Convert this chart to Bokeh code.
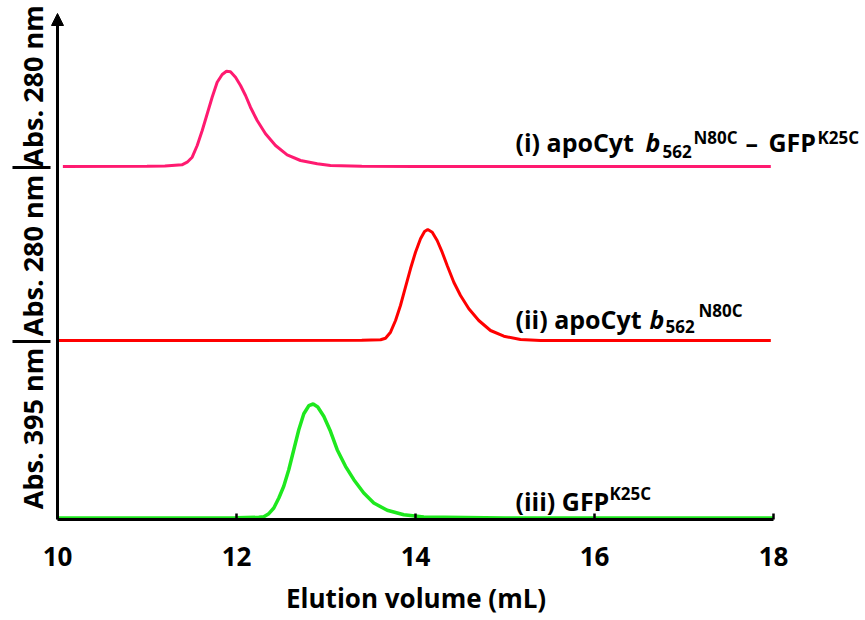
from bokeh.plotting import figure
from bokeh.models import Range1d, FixedTicker, Label, Arrow, NormalHead
from bokeh.embed import file_html
from bokeh.resources import INLINE

# ---- data (elution volume in mL, absorbance in arbitrary units) ----
vol_i = [10.06, 11.00, 11.20, 11.39, 11.449, 11.505, 11.561, 11.617, 11.673, 11.728, 11.784,
         11.840, 11.888, 11.933, 11.989, 12.045, 12.101, 12.156, 12.231, 12.324, 12.436,
         12.566, 12.715, 12.902, 13.050, 13.40, 14.0, 15.0, 16.0, 17.0, 17.97]
abs_i = [0.000, 0.003, 0.005, 0.017, 0.043, 0.093, 0.210, 0.360, 0.527, 0.693, 0.843,
         0.920, 0.953, 0.947, 0.893, 0.810, 0.710, 0.593, 0.460, 0.327, 0.210,
         0.117, 0.060, 0.027, 0.010, 0.003, 0.0, 0.0, 0.0, 0.0, 0.0]

vol_ii = [10.00, 12.0, 13.40, 13.61, 13.665, 13.721, 13.777, 13.832, 13.888, 13.944, 14.000,
          14.056, 14.101, 14.137, 14.187, 14.242, 14.298, 14.354, 14.428, 14.503, 14.596,
          14.707, 14.838, 14.987, 15.173, 15.397, 16.0, 17.0, 17.97]
abs_ii = [0.000, 0.0, 0.002, 0.007, 0.023, 0.083, 0.200, 0.350, 0.533, 0.717, 0.883,
          1.017, 1.090, 1.110, 1.083, 1.000, 0.883, 0.750, 0.583, 0.450, 0.317,
          0.200, 0.100, 0.043, 0.010, 0.000, 0.0, 0.0, 0.0]

vol_iii = [10.00, 11.0, 12.0, 12.25, 12.305, 12.361, 12.417, 12.473, 12.528, 12.584, 12.640,
           12.696, 12.752, 12.808, 12.857, 12.908, 12.975, 13.050, 13.125, 13.218, 13.311,
           13.422, 13.534, 13.684, 13.869, 14.093, 15.0, 16.0, 17.0, 18.0]
abs_iii = [0.000, 0.0, 0.003, 0.007, 0.013, 0.043, 0.100, 0.200, 0.317, 0.483, 0.683,
           0.883, 1.043, 1.123, 1.140, 1.110, 1.017, 0.867, 0.683, 0.517, 0.383,
           0.250, 0.150, 0.077, 0.033, 0.010, 0.0, 0.0, 0.0, 0.0]

x_ticks = [10, 12, 14, 16, 18]
y_titles = ["Abs. 280 nm", "Abs. 280 nm", "Abs. 395 nm"]
x_title = "Elution volume (mL)"

# ---- layout constants ----
SCALE = 100.0                 # plot units per absorbance unit
OFF_I, OFF_II, OFF_III = 353.0, 179.0, 1.5
SEP = [352.0, 178.0]
FONT = "Open Sans"
PXU = 89.5                    # pixels per mL
X0 = 10 - 57 / PXU
X1 = 10 + (865 - 57) / PXU

p = figure(width=865, height=620, x_range=Range1d(X0, X1), y_range=Range1d(0, 519),
           output_backend="svg", toolbar_location=None,
           min_border_left=0, min_border_right=0, min_border_top=0, min_border_bottom=101)
p.outline_line_color = None
p.xgrid.visible = False
p.ygrid.visible = False
p.yaxis.visible = False
p.background_fill_color = "white"
p.border_fill_color = "white"

ax = p.xaxis[0]
ax.bounds = (10, 18)
ax.ticker = FixedTicker(ticks=x_ticks)
ax.minor_tick_line_color = None
ax.major_tick_in = 6
ax.major_tick_out = 0
ax.major_tick_line_width = 2.5
ax.major_tick_line_color = "black"
ax.axis_line_width = 3
ax.axis_line_color = "black"
ax.major_label_text_font = FONT
ax.major_label_text_font_style = "bold"
ax.major_label_text_font_size = "26px"
ax.major_label_text_color = "black"
ax.major_label_standoff = 27
# trailing no-break spaces centre the title under the 10-18 span instead of the full frame
ax.axis_label = x_title + "\u00a0" * 5
ax.axis_label_text_font = FONT
ax.axis_label_text_font_style = "bold"
ax.axis_label_text_font_size = "26px"
ax.axis_label_text_color = "black"
ax.axis_label_standoff = 11

p.line(vol_i, [OFF_I + a * SCALE for a in abs_i], line_color="#ff1a70", line_width=3)
p.line(vol_ii, [OFF_II + a * SCALE for a in abs_ii], line_color="#ff0000", line_width=3)
p.line(vol_iii, [OFF_III + a * SCALE for a in abs_iii], line_color="#1ee81e", line_width=3.5)

# y axis with arrow head
p.add_layout(Arrow(end=NormalHead(size=12, fill_color="black", line_color="black", line_width=1),
                   x_start=10, y_start=0, x_end=10, y_end=506,
                   line_width=3, line_color="black"))
# panel separators
for s in SEP:
    p.add_layout(Arrow(start=None, end=None, x_start=9.497, y_start=s, x_end=9.922, y_end=s,
                       line_width=3, line_color="black"))

# y titles
for title, yc in zip(y_titles, [433.5, 264.0, 91.0]):
    p.add_layout(Label(x=9.7207, y=yc, text=title, angle=90, angle_units="deg",
                       text_align="center", text_baseline="alphabetic",
                       text_font=FONT, text_font_style="bold", text_font_size="27px",
                       text_color="black"))


def piece(x, y, text, size=25, style="bold"):
    # y is the wanted baseline; shift for the renderer's baseline placement
    p.add_layout(Label(x=x, y=y + 0.4 * size, text=text, text_align="left",
                       text_baseline="alphabetic",
                       text_font=FONT, text_font_style=style, text_font_size=f"{size}px",
                       text_color="black"))


# (i)
piece(15.117, 367.3, "(i) apoCyt")
piece(16.570, 367.3, "b", style="bold italic")
piece(16.760, 361.0, "562", size=17)
piece(17.106, 375.3, "N80C", size=17)
piece(17.687, 367.3, "–")
piece(17.944, 367.3, "GFP")
piece(18.492, 375.3, "K25C", size=17)
# (ii)
piece(15.117, 190.7, "(ii) apoCyt")
piece(16.615, 190.7, "b", style="bold italic")
piece(16.793, 186.0, "562", size=17)
piece(17.162, 202.0, "N80C", size=17)
# (iii)
piece(15.117, 9.0, "(iii) GFP")
piece(16.168, 19.0, "K25C", size=17)

open("out.html", "w").write(file_html(p, INLINE))
